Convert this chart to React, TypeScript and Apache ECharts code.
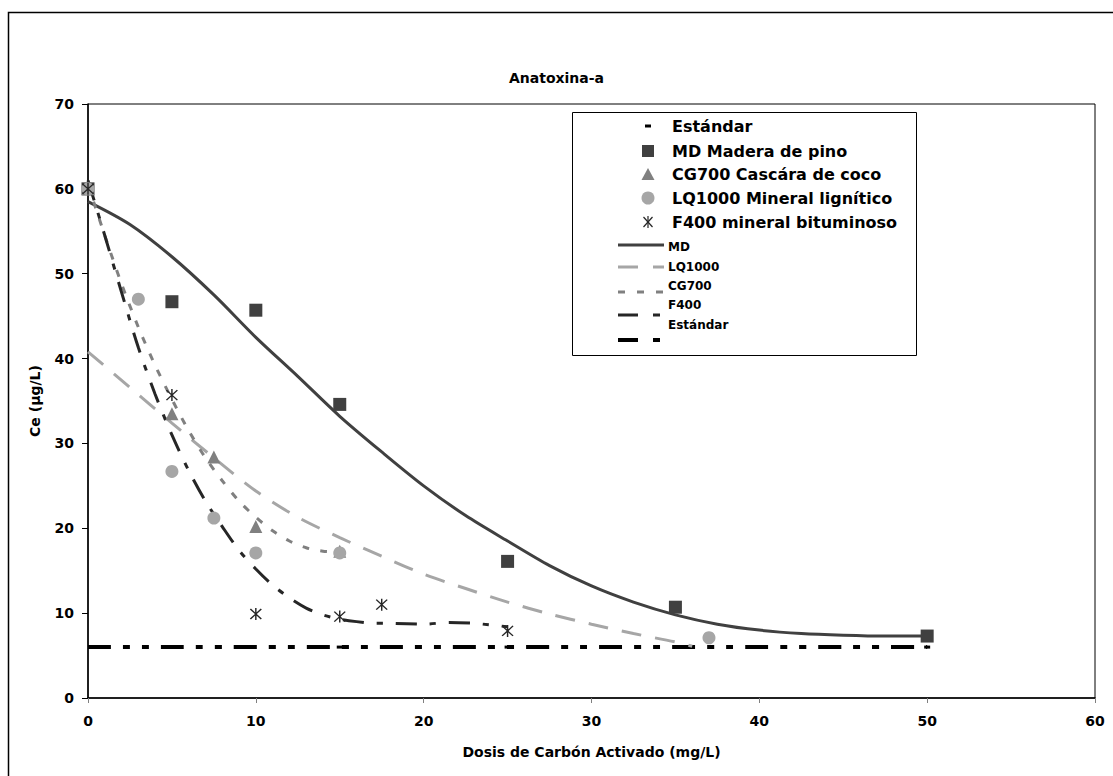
import React, { useEffect, useRef } from "react";
import * as echarts from "echarts";

const chartTitle = "Anatoxina-a";
const xAxisName = "Dosis de Carbón Activado (mg/L)";
const yAxisName = "Ce (µg/L)";

// measured points
const mdX = [0, 5, 10, 15, 25, 35, 50];
const mdY = [60, 46.7, 45.7, 34.6, 16.1, 10.7, 7.3];
const cgX = [0, 5, 7.5, 10, 15];
const cgY = [60, 33.5, 28.4, 20.2, 17.3];
const lqX = [0, 3, 5, 7.5, 10, 15, 37];
const lqY = [60, 47, 26.7, 21.2, 17.1, 17.1, 7.1];
const fX = [0, 5, 10, 15, 17.5, 25];
const fY = [60, 35.7, 9.9, 9.6, 11.0, 7.9];
const stdX = [15, 25, 50];
const stdY = [6, 6, 6];

// trend lines
const mdTrendX = [0, 2.5, 5, 7.5, 10, 12.5, 15, 17.5, 20, 22.5, 25, 27.5, 30, 32.5, 35, 37.5, 40, 42.5, 45, 47.5, 50];
const mdTrendY = [58.5, 55.8, 52, 47.5, 42.5, 37.9, 33.2, 29, 25, 21.5, 18.5, 15.6, 13.2, 11.3, 9.8, 8.7, 8.0, 7.6, 7.4, 7.3, 7.3];
const lqTrendX = [0, 2.5, 5, 7.5, 10, 12.5, 15, 17.5, 20, 22.5, 25, 27.5, 30, 32.5, 35, 36];
const lqTrendY = [40.8, 36.6, 32.4, 28.3, 24.4, 21.3, 18.9, 16.7, 14.6, 12.9, 11.3, 9.9, 8.7, 7.6, 6.6, 6.1];
const cgTrendX = [0, 1, 2, 3, 4, 5, 6, 7, 8, 9, 10, 11, 12, 13, 14, 15];
const cgTrendY = [60.5, 54.5, 48.8, 43.7, 39.2, 35.2, 31.5, 28.3, 25.6, 23.2, 21.3, 19.7, 18.5, 17.7, 17.3, 17.2];
const fTrendX = [0, 1, 2, 3, 4, 5, 6, 7, 8, 9, 10, 11, 12, 13, 14, 15, 16, 17, 18, 20, 21.5, 23, 24, 25];
const fTrendY = [61, 54.5, 47.8, 41.3, 35.8, 31, 26.8, 23.2, 20.2, 17.4, 15.2, 13.3, 11.8, 10.6, 9.8, 9.3, 9.0, 8.8, 8.8, 8.7, 8.9, 8.8, 8.6, 8.4];
const stdLineX = [0, 50];
const stdLineY = [6, 6];

const xTicks = { min: 0, max: 60, interval: 10 };
const yTicks = { min: 0, max: 70, interval: 10 };

const markerLegend = [
  "Estándar",
  "MD Madera de pino",
  "CG700 Cascára de coco",
  "LQ1000 Mineral lignítico",
  "F400 mineral bituminoso",
];
const lineLegend = ["MD", "LQ1000", "CG700", "F400", "Estándar"];

const FONT = "'DejaVu Sans', sans-serif";
const C_MD = "#404040";
const C_CG = "#808080";
const C_LQ = "#a6a6a6";
const C_F = "#262626";

const ASTERISK =
  "path://M5.4 0H6.6V12H5.4Z M1.05 1.4L1.95 0.6L10.95 10.6L10.05 11.4Z M10.05 0.6L10.95 1.4L1.95 11.4L1.05 10.6Z";

const zip = (xs: number[], ys: number[]) => xs.map((x, i) => [x, ys[i]]);

function buildLegend(): any[] {
  const els: any[] = [];
  const bx = 572, by = 112, bw = 344, bh = 243;
  els.push({
    type: "rect",
    shape: { x: bx + 0.5, y: by + 0.5, width: bw, height: bh },
    style: { fill: "#fff", stroke: "#000", lineWidth: 1 },
    z: 100,
  });
  const rowY = [126, 151, 174, 198, 222];
  const mx = 648;
  const tx = 672;
  markerLegend.forEach((name, i) => {
    els.push({
      type: "text",
      x: tx,
      y: rowY[i],
      style: { text: name, fill: "#000", font: `bold 16px ${FONT}`, textVerticalAlign: "middle" },
      z: 101,
    });
  });
  // markers
  els.push({ type: "rect", shape: { x: mx - 3, y: rowY[0] - 1.5, width: 6, height: 3 }, style: { fill: "#000" }, z: 101 });
  els.push({ type: "rect", shape: { x: mx - 6, y: rowY[1] - 6, width: 12, height: 12 }, style: { fill: C_MD }, z: 101 });
  els.push({
    type: "polygon",
    shape: { points: [[mx, rowY[2] - 6], [mx + 6.5, rowY[2] + 6], [mx - 6.5, rowY[2] + 6]] },
    style: { fill: C_CG },
    z: 101,
  });
  els.push({ type: "circle", shape: { cx: mx, cy: rowY[3], r: 6.5 }, style: { fill: C_LQ }, z: 101 });
  const ay = rowY[4];
  els.push({ type: "line", shape: { x1: mx, y1: ay - 6, x2: mx, y2: ay + 6 }, style: { stroke: C_F, lineWidth: 1.2 }, z: 101 });
  els.push({ type: "line", shape: { x1: mx - 4.5, y1: ay - 5, x2: mx + 4.5, y2: ay + 5 }, style: { stroke: C_F, lineWidth: 1.2 }, z: 101 });
  els.push({ type: "line", shape: { x1: mx + 4.5, y1: ay - 5, x2: mx - 4.5, y2: ay + 5 }, style: { stroke: C_F, lineWidth: 1.2 }, z: 101 });

  const lineY = [245, 267, 292, 315, 340];
  const textY = [247, 267, 286, 305, 325];
  const styles = [
    { stroke: C_MD, lineWidth: 3, lineDash: null },
    { stroke: C_LQ, lineWidth: 3, lineDash: [20, 15] },
    { stroke: C_CG, lineWidth: 3, lineDash: [7, 12] },
    { stroke: C_F, lineWidth: 3, lineDash: [20, 15, 7, 15] },
    { stroke: "#000", lineWidth: 4, lineDash: [20, 15, 7, 15] },
  ];
  lineLegend.forEach((name, i) => {
    const st: any = { stroke: styles[i].stroke, lineWidth: styles[i].lineWidth };
    if (styles[i].lineDash) st.lineDash = styles[i].lineDash;
    els.push({ type: "line", shape: { x1: 618, y1: lineY[i], x2: 664, y2: lineY[i] }, style: st, z: 101 });
    els.push({
      type: "text",
      x: 668,
      y: textY[i],
      style: { text: name, fill: "#000", font: `bold 12px ${FONT}`, textVerticalAlign: "middle" },
      z: 101,
    });
  });
  return els;
}

export default function App() {
  const ref = useRef<HTMLDivElement>(null);
  useEffect(() => {
    document.body.style.margin = "0";
    if (!ref.current) return;
    const chart = echarts.init(ref.current, null, { renderer: "svg" });
    const lineSeries = (name: string, data: number[][], color: string, width: number, dash: any) => ({
      name,
      type: "line",
      data,
      smooth: 0.3,
      showSymbol: false,
      symbol: "none",
      lineStyle: { color, width, type: dash, cap: "butt" },
      z: 2,
      silent: true,
    });
    const scatter = (name: string, data: number[][], color: string, symbol: string, size: number) => ({
      name,
      type: "scatter",
      data,
      symbol,
      symbolSize: size,
      itemStyle: { color, opacity: 1 },
      z: 5,
      silent: true,
    });
    chart.setOption({
      animation: false,
      backgroundColor: "#fff",
      title: {
        text: chartTitle,
        left: "center",
        top: 66,
        textStyle: { fontFamily: FONT, fontSize: 14, fontWeight: "bold", color: "#000" },
      },
      grid: {
        left: 88,
        top: 104,
        right: 18,
        bottom: 78,
        show: true,
        borderColor: "#000",
        borderWidth: 1,
        backgroundColor: "transparent",
      },
      xAxis: {
        type: "value",
        min: xTicks.min,
        max: xTicks.max,
        interval: xTicks.interval,
        name: xAxisName,
        nameLocation: "middle",
        nameGap: 47,
        nameTextStyle: { fontFamily: FONT, fontSize: 14, fontWeight: "bold", color: "#000" },
        axisLine: { lineStyle: { color: "#000", width: 1.5 } },
        axisTick: { show: true, length: 5, lineStyle: { color: "#808080", width: 1 } },
        axisLabel: { fontFamily: FONT, fontSize: 14, fontWeight: "bold", color: "#000", margin: 16 },
        splitLine: { show: false },
      },
      yAxis: {
        type: "value",
        min: yTicks.min,
        max: yTicks.max,
        interval: yTicks.interval,
        name: yAxisName,
        nameLocation: "middle",
        nameGap: 46,
        nameRotate: 90,
        nameTextStyle: { fontFamily: FONT, fontSize: 14, fontWeight: "bold", color: "#000" },
        axisLine: { show: true, lineStyle: { color: "#000", width: 1.5 } },
        axisTick: { show: true, length: 6, lineStyle: { color: "#000", width: 1 } },
        axisLabel: { fontFamily: FONT, fontSize: 14, fontWeight: "bold", color: "#000", margin: 14 },
        splitLine: { show: false },
      },
      series: [
        lineSeries("Estándar línea", zip(stdLineX, stdLineY), "#000", 4, [23, 12, 7, 12, 7, 12]),
        lineSeries("MD", zip(mdTrendX, mdTrendY), C_MD, 3, "solid"),
        lineSeries("LQ1000", zip(lqTrendX, lqTrendY), C_LQ, 3, [20, 14]),
        lineSeries("CG700", zip(cgTrendX, cgTrendY), C_CG, 3, [7, 11]),
        lineSeries("F400", zip(fTrendX, fTrendY), C_F, 3, [21, 13, 6, 13]),
        scatter("Estándar", zip(stdX, stdY), "#000", "rect", [6, 3] as any),
        scatter("MD Madera de pino", zip(mdX, mdY), C_MD, "rect", 13),
        scatter("CG700 Cascára de coco", zip(cgX, cgY), C_CG, "triangle", 13),
        scatter("LQ1000 Mineral lignítico", zip(lqX, lqY), C_LQ, "circle", 13),
        scatter("F400 mineral bituminoso", zip(fX, fY), C_F, ASTERISK, 12),
      ],
      graphic: [
        {
          type: "rect",
          shape: { x: 8.5, y: 12.5, width: 1200, height: 900 },
          style: { fill: "none", stroke: "#000", lineWidth: 1.5 },
          z: 0,
          silent: true,
        },
        ...buildLegend(),
      ],
    });
    return () => chart.dispose();
  }, []);
  return <div ref={ref} style={{ width: 1113, height: 776 }} />;
}
